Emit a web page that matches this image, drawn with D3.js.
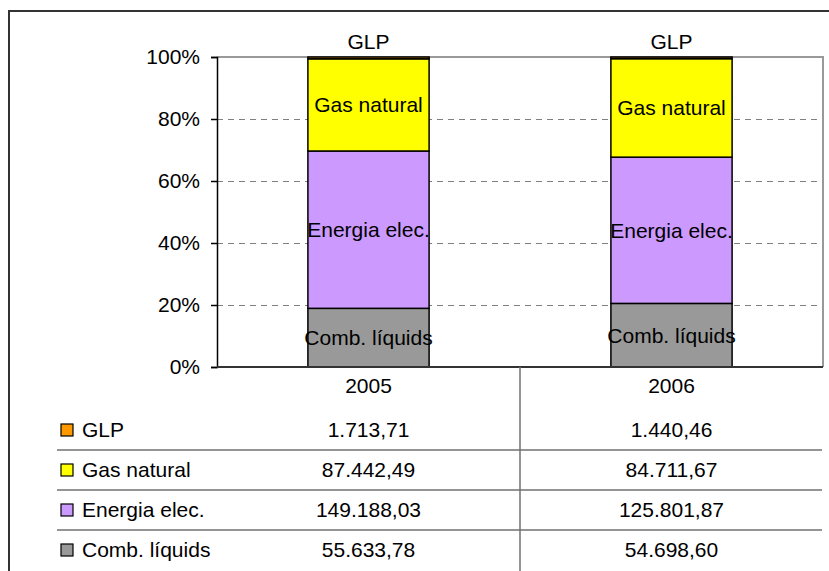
<!DOCTYPE html>
<html>
<head>
<meta charset="utf-8">
<script src="https://cdn.jsdelivr.net/npm/d3@7"></script>
<style>
    body { margin: 0; background: #fff; }
    svg { display: block; font-family: "Liberation Sans", Arial, sans-serif; }
</style>
</head>
<body>
<div class="chart"></div>
<script>
"use strict";
const years = ["2005", "2006"];
const seriesNames = ["Comb. líquids", "Energia elec.", "Gas natural", "GLP"];
const combLiquids = [55633.78, 54698.60];
const energiaElec = [149188.03, 125801.87];
const gasNatural = [87442.49, 84711.67];
const glp = [1713.71, 1440.46];
const seriesColors = ["#999999", "#cc99ff", "#ffff00", "#ff9900"];
const yTicks = [0, 0.2, 0.4, 0.6, 0.8, 1];

const width = 829, height = 571;
const plot = {left: 217, right: 823, top: 57, bottom: 367};
const fontSize = "21px";

let values = [combLiquids, energiaElec, gasNatural, glp];
let rows = years.map((yr, i) => {
    let r = {year: yr};
    seriesNames.forEach((s, k) => r[s] = values[k][i]);
    return r;
});

let locale = d3.formatLocale({decimal: ",", thousands: ".", grouping: [3], currency: ["", "€"]});
let fmt = locale.format(",.2f");

let stacked = d3.stack().keys(seriesNames).offset(d3.stackOffsetExpand)(rows);

let x = d3.scaleBand().domain(years).range([plot.left, plot.right])
    .paddingInner(0.6).paddingOuter(0.3);
let cols = d3.scaleBand().domain(years).range([plot.left, plot.right]);
let y = d3.scaleLinear().domain([0, 1]).range([plot.bottom, plot.top]);
let color = d3.scaleOrdinal().domain(seriesNames).range(seriesColors);

let svg = d3.select(".chart").append("svg")
    .attr("width", width)
    .attr("height", height);

// outer frame (cut off at right and bottom)
svg.append("path")
    .attr("d", "M9," + height + "V11H" + width)
    .style("fill", "none")
    .style("stroke", "#333")
    .style("stroke-width", 2);

// dashed grid
svg.append("g").selectAll("line")
    .data(yTicks.filter(t => t > 0 && t < 1))
    .enter().append("line")
    .attr("x1", plot.left).attr("x2", plot.right)
    .attr("y1", d => Math.round(y(d)) + 0.5).attr("y2", d => Math.round(y(d)) + 0.5)
    .style("stroke", "#808080")
    .style("stroke-dasharray", "6,5");

// plot area border: top and right
svg.append("path")
    .attr("d", "M" + plot.left + "," + y(1) + "H" + plot.right + "V" + plot.bottom)
    .style("fill", "none")
    .style("stroke", "#999")
    .style("stroke-width", 2);

// bars
let layer = svg.append("g").selectAll("g")
    .data(stacked)
    .enter().append("g")
    .style("fill", d => color(d.key));
layer.selectAll("rect")
    .data(d => d)
    .enter().append("rect")
    .attr("x", d => x(d.data.year))
    .attr("width", x.bandwidth())
    .attr("y", d => y(d[1]))
    .attr("height", d => y(d[0]) - y(d[1]))
    .style("stroke", "#000")
    .style("stroke-width", 1.5);

// segment labels
stacked.forEach(s => {
    svg.append("g").selectAll("text")
        .data(s)
        .enter().append("text")
        .attr("x", d => x(d.data.year) + x.bandwidth() / 2)
        .attr("y", d => s.key === "GLP" ? y(d[1]) - 15 : (y(d[0]) + y(d[1])) / 2)
        .attr("dy", ".35em")
        .attr("text-anchor", "middle")
        .style("font-size", fontSize)
        .style("fill", "#000")
        .text(s.key);
});

// y axis
let yAxis = d3.axisLeft(y)
    .tickValues(yTicks)
    .tickFormat(d3.format(".0%"))
    .tickSize(6)
    .tickPadding(11);
let yg = svg.append("g")
    .attr("transform", "translate(" + plot.left + ",0)")
    .call(yAxis);
yg.select(".domain").style("stroke", "#000").style("stroke-width", 1.5);
yg.selectAll(".tick line").style("stroke", "#000").style("stroke-width", 1.5);
yg.selectAll(".tick text").style("font-size", fontSize).style("font-family", "Liberation Sans, Arial, sans-serif").style("fill", "#000");

// x axis line
svg.append("line")
    .attr("x1", plot.left).attr("x2", plot.right)
    .attr("y1", plot.bottom).attr("y2", plot.bottom)
    .style("stroke", "#333")
    .style("stroke-width", 2);

// category labels
svg.append("g").selectAll("text")
    .data(years)
    .enter().append("text")
    .attr("x", d => cols(d) + cols.bandwidth() / 2)
    .attr("y", 393)
    .attr("text-anchor", "middle")
    .style("font-size", fontSize)
    .text(d => d);

// data table
let tableOrder = seriesNames.slice().reverse();
let rowY = d3.scaleBand().domain(tableOrder).range([410, 570]);

svg.append("line")
    .attr("x1", cols(years[1])).attr("x2", cols(years[1]))
    .attr("y1", plot.bottom).attr("y2", height)
    .style("stroke", "#707070")
    .style("stroke-width", 1.5);

svg.append("g").selectAll("line")
    .data(tableOrder.slice(0, -1))
    .enter().append("line")
    .attr("x1", 57).attr("x2", plot.right - 1)
    .attr("y1", d => rowY(d) + rowY.bandwidth())
    .attr("y2", d => rowY(d) + rowY.bandwidth())
    .style("stroke", "#707070")
    .style("stroke-width", 1.5);

let tr = svg.append("g").selectAll("g")
    .data(tableOrder)
    .enter().append("g")
    .attr("transform", d => "translate(0," + (rowY(d) + rowY.bandwidth() / 2) + ")");
tr.append("rect")
    .attr("x", 61).attr("y", -6)
    .attr("width", 12).attr("height", 12)
    .style("fill", d => color(d))
    .style("stroke", "#000")
    .style("stroke-width", 1.2);
tr.append("text")
    .attr("x", 82)
    .attr("dy", ".35em")
    .style("font-size", fontSize)
    .text(d => d);
tr.each(function (name) {
    d3.select(this).selectAll("text.val")
        .data(rows)
        .enter().append("text")
        .attr("class", "val")
        .attr("x", d => cols(d.year) + cols.bandwidth() / 2)
        .attr("dy", ".35em")
        .attr("text-anchor", "middle")
        .style("font-size", fontSize)
        .text(d => fmt(d[name]));
});
</script>
</body>
</html>
